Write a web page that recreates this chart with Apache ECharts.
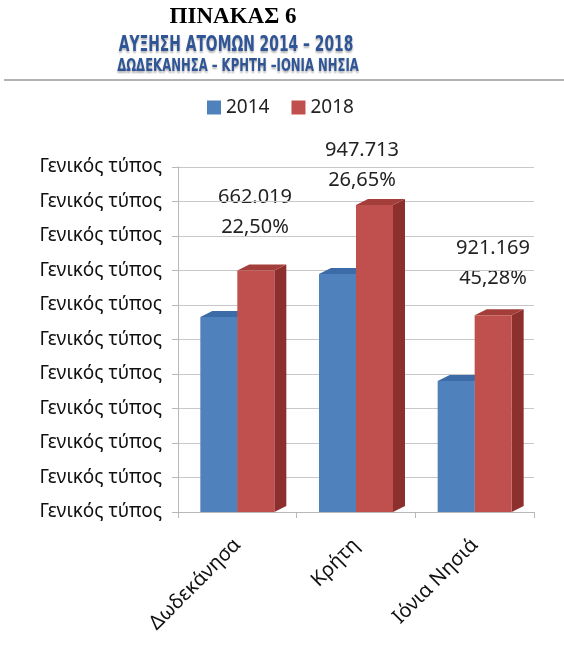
<!DOCTYPE html>
<html>
<head>
<meta charset="utf-8">
<script src="https://cdn.jsdelivr.net/npm/echarts@6.0.0/dist/echarts.min.js"></script>
<style>
  html, body { margin: 0; padding: 0; background: #fff; }
  #chart { width: 564px; height: 666px; }
</style>
</head>
<body>
<div id="chart"></div>
<script>
var categories = ['Δωδεκάνησα', 'Κρήτη', 'Ιόνια Νησιά'];
var years = ['2014', '2018'];
var values2014 = [5.65, 6.9, 3.8];
var values2018 = [7.0, 8.9, 5.7];
var yTickLabels = [
    'Γενικός τύπος', 'Γενικός τύπος', 'Γενικός τύπος', 'Γενικός τύπος',
    'Γενικός τύπος', 'Γενικός τύπος', 'Γενικός τύπος', 'Γενικός τύπος',
    'Γενικός τύπος', 'Γενικός τύπος', 'Γενικός τύπος'
];
var notes2018 = ['662.019\n22,50%', '947.713\n26,65%', '921.169\n45,28%'];

var myChart = echarts.init(document.getElementById('chart'));

var BAR_W = 37, DX = 12, DY = -6;

// fake 3d bar: front + right side + top
function bar3d(offset, front, side, top) {
    return function (params, api) {
        var p = api.coord([api.value(0), api.value(1)]);
        var b = api.coord([api.value(0), 0]);
        var x0 = p[0] + offset, x1 = x0 + BAR_W, yt = p[1], yb = b[1];
        return {
            type: 'group',
            children: [
                { type: 'polygon', shape: { points: [[x1, yt], [x1 + DX, yt + DY], [x1 + DX, yb + DY], [x1, yb]] },
                  style: { fill: side } },
                { type: 'polygon', shape: { points: [[x0, yt], [x0 + DX, yt + DY], [x1 + DX, yt + DY], [x1, yt]] },
                  style: { fill: top } },
                { type: 'rect', shape: { x: x0, y: yt, width: BAR_W, height: yb - yt },
                  style: { fill: front } }
            ]
        };
    };
}

function toData(arr) {
    return arr.map(function (v, i) { return [i, v]; });
}

var noteX = [255, 362, 493], noteY = [212, 165, 263];
var notes = notes2018.map(function (t, i) {
    return {
        type: 'text', x: noteX[i], y: noteY[i],
        style: { text: t, fill: '#222', font: '20px "Noto Sans"', align: 'center',
                 verticalAlign: 'middle', lineHeight: 30 }
    };
});

var subFont = '"Liberation Sans Narrow", "DejaVu Sans Condensed"';

var option = {
    animation: false,
    backgroundColor: '#fff',
    graphic: [
        { type: 'text', x: 233, y: 17,
          style: { text: 'ΠΙΝΑΚΑΣ 6', fill: '#000', font: 'bold 23px "Liberation Serif"',
                   align: 'center', verticalAlign: 'middle' } },
        { type: 'text', x: 236, y: 45, scaleX: 0.7,
          style: { text: 'ΑΥΞΗΣΗ ΑΤΟΜΩΝ 2014 – 2018', fill: '#2F5597',
                   font: 'bold 22px ' + subFont,
                   align: 'center', verticalAlign: 'middle',
                   textShadowColor: 'rgba(0,0,0,0.3)', textShadowBlur: 2, textShadowOffsetY: 2 } },
        { type: 'text', x: 238, y: 66, scaleX: 0.72,
          style: { text: 'ΔΩΔΕΚΑΝΗΣΑ – ΚΡΗΤΗ –ΙΟΝΙΑ ΝΗΣΙΑ', fill: '#2F5597',
                   font: 'bold 18px ' + subFont,
                   align: 'center', verticalAlign: 'middle',
                   textShadowColor: 'rgba(0,0,0,0.3)', textShadowBlur: 2, textShadowOffsetY: 2 } },
        { type: 'line', shape: { x1: 4, y1: 80, x2: 564, y2: 80 },
          style: { stroke: '#9a9a9a', lineWidth: 1.5 } }
    ].concat(notes),
    legend: {
        data: years,
        top: 93,
        left: 202,
        itemWidth: 14,
        itemHeight: 14,
        itemGap: 22,
        icon: 'rect',
        textStyle: { fontFamily: 'Noto Sans', fontSize: 19, color: '#222' }
    },
    grid: { left: 178, right: 30, top: 167, bottom: 154 },
    xAxis: {
        type: 'category',
        data: categories,
        axisLine: { lineStyle: { color: '#b8b8b8' } },
        axisTick: { show: true, length: 6, lineStyle: { color: '#b8b8b8' } },
        axisLabel: { rotate: 45, margin: 30, fontFamily: 'Noto Sans', fontSize: 20, color: '#111' }
    },
    yAxis: {
        type: 'value',
        min: 0,
        max: 10,
        interval: 1,
        axisLine: { show: true, lineStyle: { color: '#b8b8b8' } },
        axisTick: { show: true, length: 6, lineStyle: { color: '#b8b8b8' } },
        splitLine: { lineStyle: { color: '#c8c8c8' } },
        axisLabel: {
            margin: 16,
            fontFamily: 'Noto Sans',
            fontSize: 19,
            color: '#111',
            formatter: function (v, i) { return yTickLabels[i]; }
        }
    },
    series: [
        {
            name: '2014',
            type: 'custom',
            itemStyle: { color: '#4F81BD' },
            renderItem: bar3d(-BAR_W, '#4F81BD', '#3A659B', '#3D6BA7'),
            encode: { x: 0, y: 1 },
            data: toData(values2014),
            z: 2
        },
        {
            name: '2018',
            type: 'custom',
            itemStyle: { color: '#C0504D' },
            renderItem: bar3d(0, '#C0504D', '#8C2F2D', '#A33E3B'),
            encode: { x: 0, y: 1 },
            data: toData(values2018),
            z: 3
        }
    ]
};
myChart.setOption(option);
</script>
</body>
</html>
